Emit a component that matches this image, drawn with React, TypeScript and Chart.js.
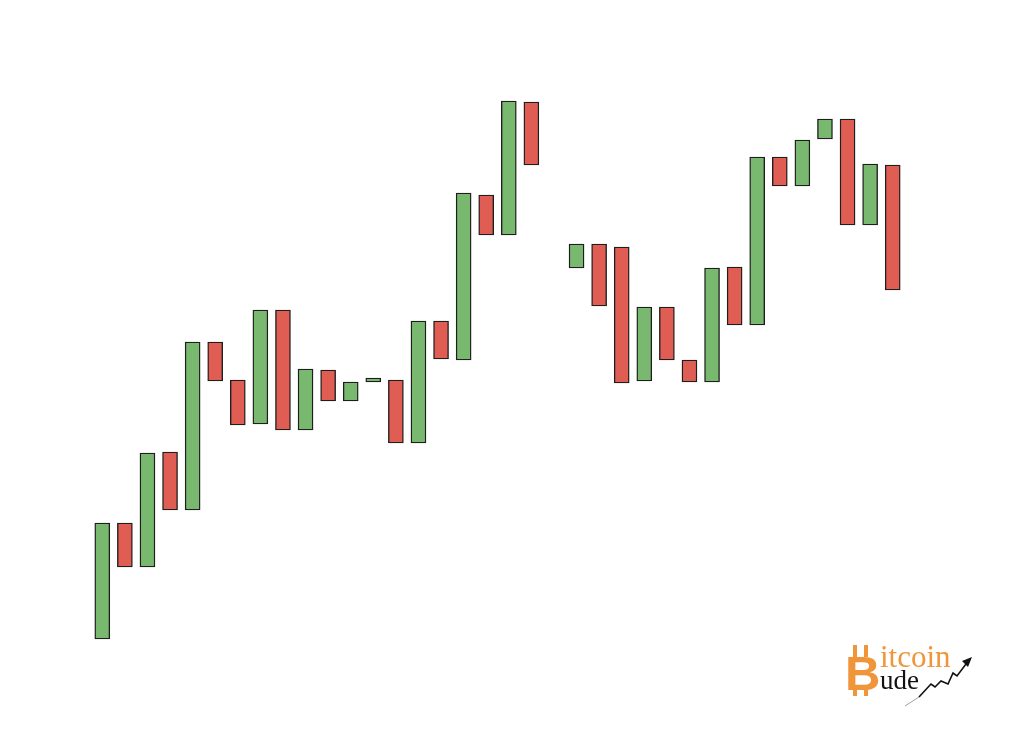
import React, { useEffect, useRef } from "react";
import { Chart, registerables } from "chart.js";

Chart.register(...registerables);

// Candle slots (one gap at slot 21)
const slots: string[] = Array.from({ length: 36 }, (_, i) => `C${i + 1}`);

const opens: (number | null)[] = [
  361, 477, 433, 548, 490, 658, 620, 576, 690, 570, 630, 599, 618, 620, 557, 679, 640, 805, 765, 898,
  null,
  732, 756, 753, 619, 693, 640, 618, 733, 675, 843, 814, 861, 881, 775, 835,
];
const closes: (number | null)[] = [
  477, 433, 547, 490, 658, 619, 575, 690, 570, 631, 599, 618, 622, 557, 679, 641, 807, 765, 899, 835,
  null,
  756, 694, 617, 693, 640, 618, 732, 675, 843, 814, 860, 881, 775, 836, 710,
];

const UP = "#79b86f";
const DOWN = "#e05d53";

export default function App() {
  const ref = useRef<HTMLCanvasElement | null>(null);

  useEffect(() => {
    if (!ref.current) return;
    const data = slots.map((_, i) =>
      opens[i] == null || closes[i] == null ? null : [opens[i] as number, closes[i] as number]
    );
    const colors = slots.map((_, i) =>
      opens[i] != null && closes[i] != null && (closes[i] as number) >= (opens[i] as number) ? UP : DOWN
    );
    const chart = new Chart(ref.current, {
      type: "bar",
      data: {
        labels: slots,
        datasets: [
          {
            data: data as any,
            backgroundColor: colors,
            borderColor: "#1e1e1e",
            borderWidth: 1.4,
            borderSkipped: false,
            barThickness: 15,
          },
        ],
      },
      options: {
        animation: false,
        responsive: true,
        maintainAspectRatio: false,
        layout: { padding: { left: 91, right: 120, top: 0, bottom: 0 } },
        plugins: { legend: { display: false }, tooltip: { enabled: false } },
        scales: {
          x: { type: "category", offset: true, display: false, grid: { display: false } },
          y: { min: 269, max: 1000, display: false, grid: { display: false } },
        },
      },
    });
    return () => chart.destroy();
  }, []);

  const orange = "#f0953a";
  return (
    <div style={{ position: "fixed", left: 0, top: 0, width: 1024, height: 731, background: "#fff" }}>
      <canvas ref={ref} />
      <svg
        width={1024}
        height={731}
        style={{ position: "absolute", left: 0, top: 0, pointerEvents: "none" }}
      >
        <rect x={853} y={645} width={4} height={12} fill={orange} />
        <rect x={864} y={645} width={4} height={12} fill={orange} />
        <rect x={853} y={686} width={4} height={10} fill={orange} />
        <rect x={864} y={686} width={4} height={10} fill={orange} />
        <text
          x={845}
          y={690}
          fontFamily="Liberation Sans, Arial, sans-serif"
          fontWeight="bold"
          fontSize={49}
          fill={orange}
        >
          B
        </text>
        <text x={880} y={667} fontFamily="Liberation Serif, Times New Roman, serif" fontSize={31} fill={orange}>
          itcoin
        </text>
        <text x={880} y={689} fontFamily="Liberation Serif, Times New Roman, serif" fontSize={27} fill="#111">
          ude
        </text>
        <line x1={905} y1={706} x2={919} y2={697} stroke="#888" strokeWidth={0.8} />
        <polyline
          points="919,697 931,684 935,687 941,681 948,684 953,673 957,676 966,664"
          fill="none"
          stroke="#111"
          strokeWidth={1.6}
        />
        <polygon points="972,657 962,661 968,667" fill="#111" />
      </svg>
    </div>
  );
}
